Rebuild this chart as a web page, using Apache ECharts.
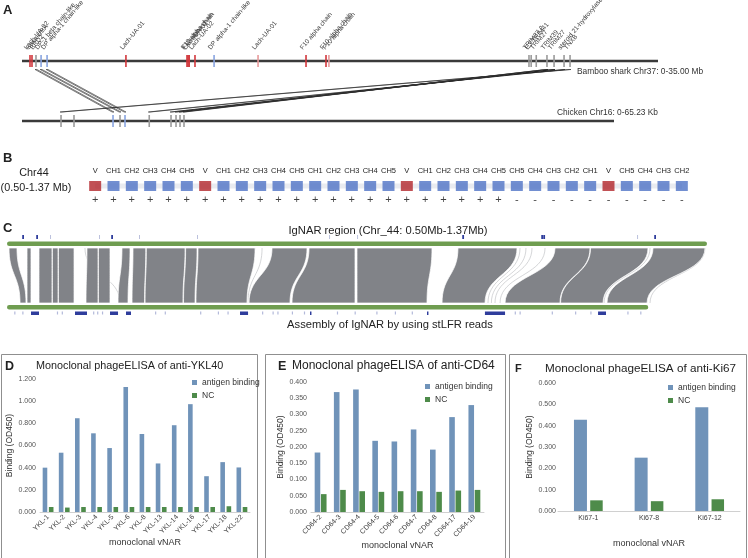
<!DOCTYPE html>
<html><head><meta charset="utf-8">
<script src="https://cdn.jsdelivr.net/npm/echarts/dist/echarts.min.js"></script>
<style>html,body{margin:0;padding:0;background:#fff}#c{width:748px;height:558px}</style>
</head><body><div id="c"></div>
<script>
// ---------- Panel A data ----------
const sharkLengthMb = 35.00;
const chickenLengthKb = 65.23;
const sharkLabels = ['Lach-UA-02','Sasa-UBA','BRD2','DP-1 beta chain-like','DP alpha-1 chain-like','Lach-UA-01','F10 alpha chain','F10 alpha chain','Lach-UA-01','Lach-UA-02','DP alpha-1 chain-like','Lach-UA-01','F10 alpha chain','F10 alpha chain','F10 alpha chain','TRIM27.2','E3 TRIM41','TRIM27','TRIM39','TRIM27','steroid 21-hydroxylase','TNXB'];
const sharkPosMb = [0.44,0.55,0.77,1.05,1.38,5.72,9.08,9.14,9.20,9.52,10.57,12.99,15.63,16.73,16.89,27.90,28.02,28.30,28.89,29.28,29.83,30.16];
const sharkKind = ['red','red','gray','blue','blue','red','red','red','red','red','blue','pink','red','red','pink','gray','gray','gray','gray','gray','gray','gray'];
const chickenPosKb = [4.30,5.73,10.03,10.80,11.35,14.02,16.42,16.97,17.41,17.85];
const chickenKind = ['gray','gray','blue','gray','blue','gray','gray','gray','gray','gray'];
const linkSharkMb = [0.77,1.05,1.38,30.16,29.83,29.28,29.28,28.89,28.89];
const linkChickenKb = [10.03,10.80,11.35,4.30,14.02,16.42,16.97,17.41,17.85];

// ---------- Panel B data ----------
const geneSegments = ['V','CH1','CH2','CH3','CH4','CH5','V','CH1','CH2','CH3','CH4','CH5','CH1','CH2','CH3','CH4','CH5','V','CH1','CH2','CH3','CH4','CH5','CH5','CH4','CH3','CH2','CH1','V','CH5','CH4','CH3','CH2'];
const segmentStrand = ['+','+','+','+','+','+','+','+','+','+','+','+','+','+','+','+','+','+','+','+','+','+','+','-','-','-','-','-','-','-','-','-','-'];

// ---------- Panel C data (kb offsets) ----------
const regionLengthKb = 870;
const assemblyLengthKb = 797;
// [region start, region end, assembly start, assembly end]
const ribbonBlocks = [
  [2.5,12.4,16.2,23.6],[24.9,29.8,24.9,29.8],
  [39.8,55.9,39.8,55.9],[56.5,63.4,56.5,63.4],[64.0,83.3,64.0,83.3],
  [99.4,113.1,98.2,113.1],[113.7,128.0,113.7,128.0],
  [142.9,152.9,138.0,150.4],
  [156.6,172.5,155.4,171.0],[173.2,221.3,171.6,218.7],[222.0,236.2,219.4,233.7],
  [237.4,308.3,234.9,298.3],
  [329.4,372.9,300.8,351.7],[375.4,432.5,354.2,432.5],[435.0,528.2,435.0,522.0],
  [560.5,633.9,540.7,594.1],
  [681.1,724.6,619.0,687.3],[725.3,796.7,688.0,740.8],
  [802.9,867.5,745.7,795.5]
];
const faintLinks = [[96.9,140.4],[308.0,240.0],[317.0,299.5],[637.6,597.8],[645.0,602.0],[652.5,606.5],[668.7,612.8],[799.2,742.0],[867.5,799.2]];
const topMarksKb = [19.9,37.3,130.5,566.8,665.0,667.5,805.4];
const topFaintKb = [54.7,115.6,165.3,237.4,401.5,436.3,784.3];
const bottomMarksKb = [[29.8,39.8],[84.5,99.4],[128.0,138.0],[147.9,154.1],[289.6,299.6],[376.6,378.4],[522.0,523.8],[594.0,619.0],[734.6,744.5]];
const bottomFaintKb = [9,19,62,68,107,112,118,184,196,240,262,274,317,330,336,354,369,410,432,459,482,503,631,637,677,706,725,771,787];

// ---------- Panels D/E/F data ----------
const yklNames = ['YKL-1','YKL-2','YKL-3','YKL-4','YKL-5','YKL-6','YKL-8','YKL-13','YKL-14','YKL-16','YKL-17','YKL-18','YKL-22'];
const yklBinding = [0.400,0.535,0.846,0.710,0.577,1.128,0.704,0.438,0.783,0.973,0.323,0.450,0.402];
const yklNC = [0.045,0.040,0.045,0.045,0.045,0.045,0.045,0.045,0.045,0.045,0.045,0.052,0.045];
const cd64Names = ['CD64-2','CD64-3','CD64-4','CD64-5','CD64-6','CD64-7','CD64-8','CD64-17','CD64-19'];
const cd64Binding = [0.183,0.369,0.377,0.219,0.217,0.254,0.192,0.292,0.329];
const cd64NC = [0.055,0.068,0.064,0.062,0.064,0.064,0.062,0.066,0.068];
const ki67Names = ['Ki67-1','Ki67-8','Ki67-12'];
const ki67Binding = [0.428,0.250,0.486];
const ki67NC = [0.050,0.046,0.055];

// ---------- styling ----------
const FONT = '"Liberation Sans", Arial, sans-serif';
const kindColor = {red:'#d2373c', pink:'#e8999b', blue:'#88a4e0', gray:'#9a9a9a'};
const BLUE = '#7093b9', GREEN = '#4e8b4a';

const chart = echarts.init(document.getElementById('c'));

function cubic(a,b,c,d,t){const u=1-t;return a*u*u*u+3*b*u*u*t+3*c*u*t*t+d*t*t*t;}
function hiddenVal(grid,min,max){return {gridIndex:grid,type:'value',min:min,max:max,show:false};}

function barX(grid,data,rotate,nameGap){
  return {gridIndex:grid,type:'category',data:data,
    axisLine:{show:true,lineStyle:{color:'#d0d0d0',width:1}},axisTick:{show:false},
    axisLabel:{interval:0,rotate:rotate,fontSize:7,color:'#404040',margin:4,fontFamily:FONT},
    name:'monoclonal vNAR',nameLocation:'middle',nameGap:nameGap,
    nameTextStyle:{fontSize:9,color:'#333',fontFamily:FONT}};
}
function barY(grid,max,interval,nameGap,margin){
  return {gridIndex:grid,type:'value',min:0,max:max,interval:interval,
    axisLine:{show:false},axisTick:{show:false},splitLine:{show:false},
    axisLabel:{fontSize:7,color:'#555',margin:margin,fontFamily:FONT,formatter:v=>v.toFixed(3)},
    name:'Binding (OD450)',nameLocation:'middle',nameGap:nameGap,
    nameTextStyle:{fontSize:8.5,color:'#333',fontFamily:FONT}};
}

const grids = [
  {left:22,top:55,width:636,height:12},
  {left:22,top:115,width:592,height:12},
  {left:86,top:181,width:605,height:10},
  {left:7,top:248,width:700,height:55},
  {left:40,top:379,width:210,height:133},
  {left:311,top:382,width:173,height:130},
  {left:558,top:383,width:182,height:128}
];

const xAxes = [
  hiddenVal(0,0,sharkLengthMb),
  hiddenVal(1,0,chickenLengthKb),
  {gridIndex:2,type:'category',data:geneSegments,position:'top',axisLine:{show:false},axisTick:{show:false},
   axisLabel:{interval:0,fontSize:7.5,color:'#222',margin:6,fontFamily:FONT}},
  hiddenVal(3,0,regionLengthKb),
  barX(4,yklNames,45,19),
  barX(5,cd64Names,45,29),
  barX(6,ki67Names,0,28)
];
const yAxes = [
  hiddenVal(0,0,1), hiddenVal(1,0,1), hiddenVal(2,-1,1), hiddenVal(3,0,1),
  barY(4,1.2,0.2,22,4),
  barY(5,0.4,0.05,23,4),
  barY(6,0.6,0.1,18,2)
];

// ----- series -----
function tickSeries(gi, pos, kinds){
  return {type:'custom',xAxisIndex:gi,yAxisIndex:gi,clip:false,silent:true,
    data:pos.map((p,i)=>[p,i]),
    renderItem:(params,api)=>{
      const a=api.coord([api.value(0),1]), b=api.coord([api.value(0),0]);
      return {type:'rect',shape:{x:a[0]-0.8,y:a[1],width:1.6,height:b[1]-a[1]},style:{fill:kindColor[kinds[api.value(1)]]}};
    }};
}
function chromLine(gi,len){
  return {type:'line',xAxisIndex:gi,yAxisIndex:gi,data:[[0,0.5],[len,0.5]],symbol:'none',silent:true,
    lineStyle:{color:'#3a3a3a',width:2.6},z:1};
}

const series = [
  chromLine(0,sharkLengthMb),
  chromLine(1,chickenLengthKb),
  tickSeries(0,sharkPosMb,sharkKind),
  tickSeries(1,chickenPosKb,chickenKind),
  {type:'custom',xAxisIndex:0,yAxisIndex:0,clip:false,silent:true,
    data:sharkPosMb.map((p,i)=>[p,i]),
    renderItem:(params,api)=>{
      const a=api.coord([api.value(0),1]);
      return {type:'text',x:a[0]-2,y:a[1]-4,rotation:50*Math.PI/180,
        style:{text:sharkLabels[api.value(1)],fill:'#3c3c3c',fontSize:6.5,fontFamily:FONT,
          align:'left',verticalAlign:'bottom',textAlign:'left',textVerticalAlign:'bottom'}};
    }},
  // Panel B
  {type:'line',xAxisIndex:2,yAxisIndex:2,data:geneSegments.map((g,i)=>[i,0]),symbol:'none',silent:true,
    lineStyle:{color:'#e9ebf0',width:5},z:1},
  {type:'scatter',xAxisIndex:2,yAxisIndex:2,symbol:'rect',symbolSize:[12,10],silent:true,z:3,
    data:geneSegments.map((g,i)=>({value:[i,0],itemStyle:{color:g==='V'?'#b2252a':'#4f73c5'}})),
    label:{show:true,position:'bottom',distance:3,fontSize:11,color:'#111',fontFamily:FONT,
      formatter:p=>segmentStrand[p.dataIndex]}},
  // Panel C ribbons
  {type:'custom',xAxisIndex:3,yAxisIndex:3,clip:false,silent:true,data:ribbonBlocks,
    renderItem:(params,api)=>{
      const A=api.coord([api.value(0),1]),B=api.coord([api.value(1),1]);
      const C=api.coord([api.value(3),0]),D=api.coord([api.value(2),0]);
      const yT=A[1], yB=C[1], ym=(yT+yB)/2, N=18, pts=[[A[0],yT],[B[0],yT]];
      for(let k=1;k<=N;k++){const t=k/N;pts.push([cubic(B[0],B[0],C[0],C[0],t),cubic(yT,ym,ym,yB,t)]);}
      pts.push([D[0],yB]);
      for(let k=1;k<N;k++){const t=k/N;pts.push([cubic(D[0],D[0],A[0],A[0],t),cubic(yB,ym,ym,yT,t)]);}
      return {type:'polygon',shape:{points:pts},style:{fill:'#818388',stroke:'#ffffff',lineWidth:0.7}};
    }},
  {type:'custom',xAxisIndex:3,yAxisIndex:3,clip:false,silent:true,data:faintLinks,z:1,
    renderItem:(params,api)=>{
      const A=api.coord([api.value(0),1]),C=api.coord([api.value(1),0]);
      const yT=A[1], yB=C[1], ym=(yT+yB)/2, N=20, pts=[];
      for(let k=0;k<=N;k++){const t=k/N;pts.push([cubic(A[0],A[0],C[0],C[0],t),cubic(yT,ym,ym,yB,t)]);}
      return {type:'polyline',shape:{points:pts},style:{stroke:'#b9babd',lineWidth:0.6,fill:null}};
    }},
  // green bars
  {type:'custom',xAxisIndex:3,yAxisIndex:3,clip:false,silent:true,data:[[0,regionLengthKb,1],[0,assemblyLengthKb,0]],
    renderItem:(params,api)=>{
      const side=api.value(2);
      const a=api.coord([api.value(0),side]), b=api.coord([api.value(1),side]);
      const y = side===1 ? a[1]-6.5 : a[1]+2;
      return {type:'rect',shape:{x:a[0],y:y,width:b[0]-a[0],height:4.5,r:2.2},style:{fill:'#6f9d50'}};
    }},
  // marks above region bar
  {type:'custom',xAxisIndex:3,yAxisIndex:3,clip:false,silent:true,
    data:topMarksKb.map(p=>[p,1]).concat(topFaintKb.map(p=>[p,0])),
    renderItem:(params,api)=>{
      const a=api.coord([api.value(0),1]); const strong=api.value(1)===1;
      return {type:'rect',shape:{x:a[0]-0.8,y:a[1]-13,width:strong?1.8:0.8,height:4},style:{fill:strong?'#2f3d9c':'#aab1d4'}};
    }},
  // marks below assembly bar
  {type:'custom',xAxisIndex:3,yAxisIndex:3,clip:false,silent:true,
    data:bottomMarksKb.map(p=>[p[0],p[1],1]).concat(bottomFaintKb.map(p=>[p,p+0.8,0])),
    renderItem:(params,api)=>{
      const a=api.coord([api.value(0),0]), b=api.coord([api.value(1),0]); const strong=api.value(2)===1;
      return {type:'rect',shape:{x:a[0],y:a[1]+8.5,width:Math.max(b[0]-a[0],1.2),height:strong?3.5:3},style:{fill:strong?'#2f3d9c':'#b3b9da'}};
    }},
  // Bars D/E/F
  {type:'bar',name:'antigen binding',xAxisIndex:4,yAxisIndex:4,data:yklBinding,barWidth:4.6,itemStyle:{color:BLUE}},
  {type:'bar',name:'NC',xAxisIndex:4,yAxisIndex:4,data:yklNC,barWidth:4.6,barGap:'35%',itemStyle:{color:GREEN}},
  {type:'bar',name:'antigen binding',xAxisIndex:5,yAxisIndex:5,data:cd64Binding,barWidth:5.6,itemStyle:{color:BLUE}},
  {type:'bar',name:'NC',xAxisIndex:5,yAxisIndex:5,data:cd64NC,barWidth:5.6,barGap:'12%',itemStyle:{color:GREEN}},
  {type:'bar',name:'antigen binding',xAxisIndex:6,yAxisIndex:6,data:ki67Binding,barWidth:13,itemStyle:{color:BLUE}},
  {type:'bar',name:'NC',xAxisIndex:6,yAxisIndex:6,data:ki67NC,barWidth:12.5,barGap:'25%',itemStyle:{color:GREEN}}
];

function legendAt(left,top){
  return {data:['antigen binding','NC'],left:left,top:top,padding:0,orient:'vertical',icon:'rect',itemWidth:5,itemHeight:5,
    itemGap:4,selectedMode:false,textStyle:{fontSize:8.5,color:'#333',fontFamily:FONT}};
}

function txt(id,x,y,text,size,opt){
  opt=opt||{};
  return {type:'text',id:id,x:x,y:y,silent:true,style:{text:text,fontSize:size,fontFamily:FONT,fill:opt.fill||'#222',
    fontWeight:opt.bold?'bold':'normal',textAlign:opt.align||'left',textVerticalAlign:'middle',align:opt.align||'left',verticalAlign:'middle'}};
}
function frame(id,x,y,w,h){
  return {type:'rect',id:id,silent:true,shape:{x:x,y:y,width:w,height:h},style:{fill:null,stroke:'#8f8f8f',lineWidth:1}};
}

const baseGraphics = [
  txt('lA',3,10,'A',13,{bold:true}),
  txt('lB',3,158,'B',13,{bold:true}),
  txt('lC',3,228,'C',13,{bold:true}),
  txt('shk',577,72,'Bamboo shark Chr37: 0-35.00 Mb',8.4,{fill:'#333'}),
  txt('chk',557,113,'Chicken Chr16: 0-65.23 Kb',8.4,{fill:'#333'}),
  txt('chr44',34,173,'Chr44',10.8,{align:'center'}),
  txt('chr44r',36,188,'(0.50-1.37 Mb)',10.8,{align:'center'}),
  txt('ctitle',388,231,'IgNAR region (Chr_44: 0.50Mb-1.37Mb)',11.2,{align:'center'}),
  txt('cbot',390,325,'Assembly of IgNAR by using stLFR reads',11.2,{align:'center'}),
  frame('fD',1.5,354.5,256,210),
  frame('fE',265.5,354.5,240,210),
  frame('fF',509.5,354.5,237,210),
  txt('lD',5,367,'D',12.5,{bold:true}),
  txt('tD',36,366,'Monoclonal phageELISA of anti-YKL40',10.8),
  txt('lE',278,367,'E',12.5,{bold:true}),
  txt('tE',292,366,'Monoclonal phageELISA of anti-CD64',12),
  txt('lF',515,369,'F',11,{bold:true}),
  txt('tF',545,369,'Monoclonal phageELISA of anti-Ki67',11.7)
];

chart.setOption({
  animation:false,
  grid:grids, xAxis:xAxes, yAxis:yAxes, series:series,
  legend:[legendAt(192,378),legendAt(425,382),legendAt(668,383)],
  graphic:baseGraphics
});

// Synteny links between shark and chicken chromosomes, positioned through the axes' scales
const linkGraphics = linkSharkMb.map((s,i)=>{
  const p1 = chart.convertToPixel({xAxisIndex:0,yAxisIndex:0},[s,0]);
  const p2 = chart.convertToPixel({xAxisIndex:1,yAxisIndex:1},[linkChickenKb[i],1]);
  const y1=p1[1]+2.5, y2=p2[1]-3;
  return {type:'polygon',id:'lk'+i,silent:true,
    shape:{points:[[p1[0]-0.9,y1],[p1[0]+0.9,y1],[p2[0]+0.9,y2],[p2[0]-0.9,y2]]},
    style:{fill:'#ffffff',stroke:'#1e1e1e',lineWidth:0.6}};
});
chart.setOption({graphic:baseGraphics.concat(linkGraphics)});
</script></body></html>
